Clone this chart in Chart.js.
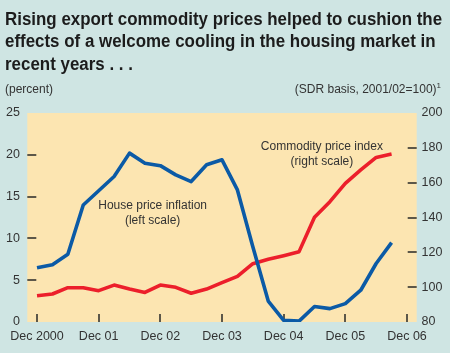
<!DOCTYPE html>
<html lang="en">
<head>
<meta charset="UTF-8">
<title>House prices and commodity prices</title>
<style>
  html, body { margin: 0; padding: 0; }
  body { width: 450px; height: 353px; background: #cfe5e3; position: relative; overflow: hidden;
         font-family: "Liberation Sans", Arial, sans-serif; }
  #title { position: absolute; left: 5px; top: 7.5px; font-weight: bold; font-size: 18px;
           line-height: 22.5px; color: #1c1c1c; z-index: 2; }
  #title span { display: inline-block; white-space: nowrap; transform-origin: 0 0; }
  .unit { position: absolute; top: 82px; font-size: 12px; line-height: 14px; color: #333; z-index: 2; }
  .unit sup { font-size: 8px; vertical-align: 5px; line-height: 0; }
  #chart { position: absolute; left: 0; top: 0; }
</style>
</head>
<body>
<div id="title">
  <div><span>Rising export commodity prices helped to cushion the</span></div>
  <div><span>effects of a welcome cooling in the housing market in</span></div>
  <div><span>recent years . . .</span></div>
</div>
<div class="unit" style="left:5px">(percent)</div>
<div class="unit" style="right:9px">(SDR basis, 2001/02=100)<sup>1</sup></div>
<canvas id="chart" width="450" height="353"></canvas>
<script src="https://cdn.jsdelivr.net/npm/chart.js"></script>
<script>
// quarterly observations, Dec 2000 .. Sep 2006
const quarters = ['Dec 00','Mar 01','Jun 01','Sep 01','Dec 01','Mar 02','Jun 02','Sep 02',
  'Dec 02','Mar 03','Jun 03','Sep 03','Dec 03','Mar 04','Jun 04','Sep 04',
  'Dec 04','Mar 05','Jun 05','Sep 05','Dec 05','Mar 06','Jun 06','Sep 06'];
const housePriceInflation = [6.5, 6.85, 8.1, 14.0, 15.7, 17.4, 20.2, 19.0,
  18.7, 17.6, 16.8, 18.8, 19.4, 15.8, 9.0, 2.5,
  0.2, 0.1, 1.85, 1.6, 2.2, 3.8, 7.0, 9.5];
const commodityPriceIndex = [95.1, 96.1, 99.7, 99.7, 98.0, 101.2, 98.9, 97.0,
  101.2, 99.9, 96.5, 98.9, 102.6, 106.2, 113.5, 116.0,
  118.1, 120.4, 140.1, 149.1, 159.6, 167.3, 174.5, 176.4];
const xTickLabels = ['Dec 2000','Dec 01','Dec 02','Dec 03','Dec 04','Dec 05','Dec 06'];
const leftTicks = [5, 10, 15, 20];
const rightTicks = [100, 120, 140, 160, 180];
const leftRange = [0, 25];
const rightRange = [80, 200];

// make the bold title look condensed like the original
const spans = document.querySelectorAll('#title span');
const sx = 437 / spans[0].offsetWidth;
spans.forEach(s => s.style.transform = 'scaleX(' + sx + ')');

const toPoints = arr => arr.map((v, i) => ({x: i, y: v}));

const labels = [
  {text: ['House price inflation', '(left scale)'], x: 7.5, y: 13.9, axis: 'y'},
  {text: ['Commodity price index', '(right scale)'], x: 18.48, y: 180.6, axis: 'y1'}
];

const plotBg = {
  id: 'plotBg',
  beforeDraw(chart) {
    const {ctx, chartArea: a} = chart;
    ctx.save();
    ctx.fillStyle = '#fce5b1';
    ctx.fillRect(a.left, a.top, a.right - a.left, a.bottom - a.top);
    ctx.restore();
  },
  beforeDatasetsDraw(chart) {
    const {ctx, chartArea: a, scales} = chart;
    ctx.save();
    // short tick marks just inside the plot edges
    ctx.fillStyle = '#5c5749';
    xTickLabels.forEach((l, i) => {
      const px = Math.round(scales.x.getPixelForValue(i * 4));
      ctx.fillRect(px - 1, a.bottom - 8, 2, 8);
    });
    leftTicks.forEach(v => {
      const py = Math.round(scales.y.getPixelForValue(v));
      ctx.fillRect(a.left, py - 1, 9, 2);
    });
    rightTicks.forEach(v => {
      const py = Math.round(scales.y1.getPixelForValue(v));
      ctx.fillRect(a.right - 9, py - 1, 9, 2);
    });

    ctx.font = '12px "Liberation Sans", Arial, sans-serif';
    ctx.fillStyle = '#333';
    ctx.textAlign = 'center';
    ctx.textBaseline = 'middle';
    labels.forEach(l => {
      const px = scales.x.getPixelForValue(l.x);
      const py = scales[l.axis].getPixelForValue(l.y);
      l.text.forEach((t, i) => ctx.fillText(t, px, py + i * 15));
    });
    ctx.restore();
  }
};

Chart.defaults.font.family = '"Liberation Sans", Arial, sans-serif';
Chart.defaults.font.size = 12.5;
Chart.defaults.color = '#333';

new Chart(document.getElementById('chart'), {
  type: 'line',
  data: {
    datasets: [
      { label: 'House price inflation', data: toPoints(housePriceInflation), yAxisID: 'y',
        borderColor: '#0b5aa6', borderWidth: 3.6, pointRadius: 0, borderJoinStyle: 'round' },
      { label: 'Commodity price index', data: toPoints(commodityPriceIndex), yAxisID: 'y1',
        borderColor: '#ec1f2b', borderWidth: 3.6, pointRadius: 0, borderJoinStyle: 'round' }
    ]
  },
  options: {
    responsive: false,
    animation: false,
    devicePixelRatio: 1,
    layout: { padding: { top: 113, left: 0, right: 0, bottom: 0 } },
    plugins: { legend: { display: false }, tooltip: { enabled: false } },
    scales: {
      x: {
        type: 'linear', min: -0.63, max: 24.63,
        afterBuildTicks: s => { s.ticks = xTickLabels.map((l, i) => ({value: i * 4})); },
        afterFit: s => { s.height = 31; s.paddingLeft = 0; s.paddingRight = 0; },
        ticks: { autoSkip: false, maxRotation: 0, padding: 7.5, callback: (v, i) => xTickLabels[i] },
        grid: { display: false, drawTicks: false },
        border: { display: false }
      },
      y: {
        position: 'left', min: leftRange[0], max: leftRange[1],
        afterFit: s => { s.width = 27.3; s.paddingTop = 0; s.paddingBottom = 0; },
        ticks: { stepSize: 5, padding: 7.3 },
        grid: { display: false, drawTicks: false },
        border: { display: false }
      },
      y1: {
        position: 'right', min: rightRange[0], max: rightRange[1],
        afterFit: s => { s.width = 33.3; s.paddingTop = 0; s.paddingBottom = 0; },
        ticks: { stepSize: 20, padding: 4.8 },
        grid: { display: false, drawTicks: false },
        border: { display: false }
      }
    }
  },
  plugins: [plotBg]
});
</script>
</body>
</html>
